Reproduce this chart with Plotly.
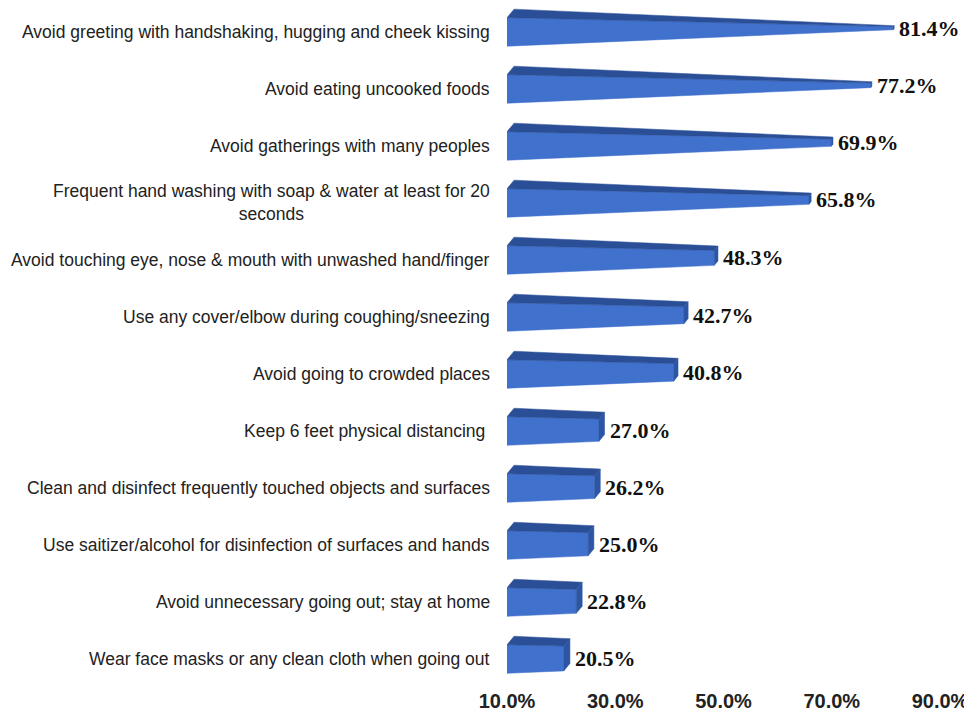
import plotly.graph_objects as go

categories = [
    "Avoid greeting with handshaking, hugging and cheek kissing",
    "Avoid eating uncooked foods",
    "Avoid gatherings with many peoples",
    "Frequent hand washing with soap & water at least for 20<br>seconds",
    "Avoid touching eye, nose & mouth with unwashed hand/finger",
    "Use any cover/elbow during coughing/sneezing",
    "Avoid going to crowded places",
    "Keep 6 feet physical distancing ",
    "Clean and disinfect frequently touched objects and surfaces",
    "Use saitizer/alcohol for disinfection of surfaces and hands",
    "Avoid unnecessary going out; stay at home",
    "Wear face masks or any clean cloth when going out",
]
values = [81.4, 77.2, 69.9, 65.8, 48.3, 42.7, 40.8, 27.0, 26.2, 25.0, 22.8, 20.5]
tick_vals = [10, 30, 50, 70, 90]
tick_text = ["<b>10.0%</b>", "<b>30.0%</b>", "<b>50.0%</b>", "<b>70.0%</b>", "<b>90.0%</b>"]

AXIS_MIN, AXIS_MAX = 10.0, 90.0
APEX = AXIS_MAX
H = 0.25      # half height of front face (row units)
DX = 1.3      # depth offset along x (%)
DY = 0.15     # depth offset along y (row units)

FRONT = "#4071CC"
TOP = "#2B4F96"
SIDE = "#2C55A3"

fig = go.Figure()
n = len(categories)
for i, (cat, v) in enumerate(zip(categories, values)):
    yc = n - 1 - i
    s = (APEX - v) / (APEX - AXIS_MIN)
    ycv = yc + DY / 2 * (1 - s)
    xv = v
    # front face
    fig.add_trace(go.Scatter(
        x=[AXIS_MIN, xv, xv, AXIS_MIN, AXIS_MIN],
        y=[yc - H, ycv - s * H, ycv + s * H, yc + H, yc - H],
        fill="toself", fillcolor=FRONT, mode="lines",
        line=dict(width=0.5, color=FRONT), hoverinfo="skip", showlegend=False))
    # top face
    fig.add_trace(go.Scatter(
        x=[AXIS_MIN, AXIS_MIN + DX, xv + s * DX, xv, AXIS_MIN],
        y=[yc + H, yc + H + DY, ycv + s * H + s * DY, ycv + s * H, yc + H],
        fill="toself", fillcolor=TOP, mode="lines",
        line=dict(width=0.5, color=TOP), hoverinfo="skip", showlegend=False))
    # side face
    fig.add_trace(go.Scatter(
        x=[xv, xv + s * DX, xv + s * DX, xv, xv],
        y=[ycv + s * H, ycv + s * H + s * DY, ycv - s * H + s * DY, ycv - s * H, ycv + s * H],
        fill="toself", fillcolor=SIDE, mode="lines",
        line=dict(width=0.5, color=SIDE), hoverinfo="skip", showlegend=False))
    # value label
    fig.add_annotation(
        x=xv + s * DX, y=ycv, xref="x", yref="y", text=f"<b>{v:.1f}%</b>",
        showarrow=False, xanchor="left", yanchor="middle", xshift=3,
        font=dict(family="Liberation Serif", size=22, color="#111111"))
    # category label
    fig.add_annotation(
        x=0, y=yc, xref="paper", yref="y", text=cat, showarrow=False,
        xanchor="right", yanchor="middle", xshift=-15, align="center",
        font=dict(family="Liberation Sans", size=17.5, color="#222222"))

fig.update_xaxes(
    range=[AXIS_MIN, AXIS_MAX], tickvals=tick_vals, ticktext=tick_text,
    showgrid=False, zeroline=False, showline=False, ticks="",
    tickfont=dict(family="Liberation Sans", size=20, color="#222222"))
fig.update_yaxes(range=[-0.49, 11.42], showticklabels=False, showgrid=False,
                 zeroline=False, showline=False)
fig.update_layout(
    width=964, height=713, margin=dict(l=499, r=32, t=0, b=34),
    plot_bgcolor="white", paper_bgcolor="white")

fig.write_html("out.html")
